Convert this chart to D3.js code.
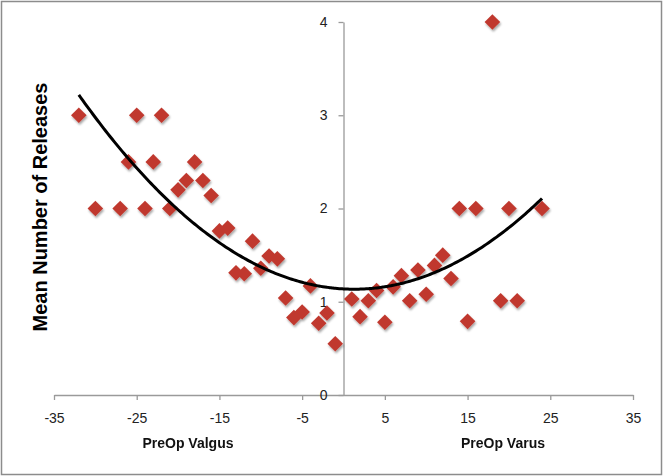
<!DOCTYPE html>
<html>
<head>
<meta charset="utf-8">
<script src="https://cdn.jsdelivr.net/npm/d3@7"></script>
<style>
  html, body { margin: 0; padding: 0; background: #fff; }
  svg { display: block; }
</style>
</head>
<body>
<svg id="chart" width="663" height="476"></svg>
<script>
// ---- data ----
const deformity = [-32, -30, -27, -26, -25, -24, -23, -22, -21, -20, -19, -18, -17, -16, -15, -14, -13, -12, -11, -10, -9, -8, -7, -6, -5, -4, -3, -2, -1,
                   1, 2, 3, 4, 5, 6, 7, 8, 9, 10, 11, 12, 13, 14, 15, 16, 18, 19, 20, 21, 24];
const meanReleases = [3.0, 2.0, 2.0, 2.5, 3.0, 2.0, 2.5, 3.0, 2.0, 2.2, 2.3, 2.5, 2.3, 2.14, 1.76, 1.79, 1.31, 1.3, 1.65, 1.36, 1.49, 1.46, 1.04, 0.83, 0.89, 1.17, 0.77, 0.88, 0.55,
                      1.03, 0.84, 1.01, 1.12, 0.78, 1.16, 1.28, 1.01, 1.34, 1.08, 1.39, 1.5, 1.25, 2.0, 0.79, 2.0, 4.0, 1.01, 2.0, 1.01, 2.0];
const xTicks = [-35, -25, -15, -5, 5, 15, 25, 35];
const yTicks = [0, 1, 2, 3, 4];
const xTitles = ["PreOp Valgus", "PreOp Varus"];
const yTitle = "Mean Number of Releases";

const svg = d3.select("#chart");
const W = 663, H = 476;

// outer border
svg.append("rect").attr("x", 1.5).attr("y", 1.5).attr("width", W - 3).attr("height", H - 3)
  .attr("fill", "#fff").attr("stroke", "#8c8c8c").attr("stroke-width", 1.5);

const x = d3.scaleLinear().domain([-35, 35]).range([54, 633]);
const y = d3.scaleLinear().domain([0, 4]).range([395, 22]);

const defs = svg.append("defs");
const f = defs.append("filter").attr("id", "sh").attr("x", "-50%").attr("y", "-50%").attr("width", "200%").attr("height", "200%");
f.append("feDropShadow").attr("dx", 1).attr("dy", 2).attr("stdDeviation", 1.3)
  .attr("flood-color", "#000").attr("flood-opacity", 0.35);

const axisColor = "#9a9a9a";
const font = "'Liberation Sans', Arial, sans-serif";
const plain = d => String(d);

// x axis (at y=0)
const gx = svg.append("g").attr("transform", `translate(0,${y(0)})`)
  .call(d3.axisBottom(x).tickValues(xTicks).tickSize(5).tickSizeOuter(0).tickPadding(13).tickFormat(plain));
gx.select(".domain").attr("stroke", axisColor).attr("stroke-width", 1.3);
gx.selectAll(".tick line").attr("stroke", axisColor).attr("stroke-width", 1.3);
gx.selectAll(".tick text").attr("font-family", font).attr("font-size", 14).attr("fill", "#222");

// y axis (at x=0)
const gy = svg.append("g").attr("transform", `translate(${x(0)},0)`)
  .call(d3.axisLeft(y).tickValues(yTicks).tickSize(5).tickSizeOuter(0).tickPadding(11).tickFormat(plain));
gy.select(".domain").attr("stroke", axisColor).attr("stroke-width", 1.3);
gy.selectAll(".tick line").attr("stroke", axisColor).attr("stroke-width", 1.3);
gy.selectAll(".tick text").attr("font-family", font).attr("font-size", 14).attr("fill", "#222");

// points
const pts = deformity.map((d, i) => ({ x: d, y: meanReleases[i] }));
const diamond = d3.symbol().type(d3.symbolDiamond2).size(155);
svg.append("g").attr("filter", "url(#sh)")
  .selectAll("path").data(pts).join("path")
  .attr("d", diamond)
  .attr("transform", d => `translate(${x(d.x)},${y(d.y)})`)
  .attr("fill", "#c0392f");

// quadratic trend line (least squares on the data)
function polyfit2(xs, ys) {
  let n = xs.length, s = [0,0,0,0,0], t = [0,0,0];
  for (let i = 0; i < n; i++) {
    const xi = xs[i], yi = ys[i];
    let p = 1;
    for (let k = 0; k < 5; k++) { s[k] += p; if (k < 3) t[k] += p * yi; p *= xi; }
  }
  const A = [[s[0], s[1], s[2], t[0]], [s[1], s[2], s[3], t[1]], [s[2], s[3], s[4], t[2]]];
  for (let c = 0; c < 3; c++) {
    for (let r = c + 1; r < 3; r++) {
      const m = A[r][c] / A[c][c];
      for (let k = c; k < 4; k++) A[r][k] -= m * A[c][k];
    }
  }
  const b = [0, 0, 0];
  for (let r = 2; r >= 0; r--) {
    let v = A[r][3];
    for (let k = r + 1; k < 3; k++) v -= A[r][k] * b[k];
    b[r] = v / A[r][r];
  }
  return b;
}
const coef = polyfit2(deformity, meanReleases);
const [xmin, xmax] = d3.extent(deformity);
const trend = d3.range(xmin, xmax + 0.001, 0.25).map(v => ({ x: v, y: coef[0] + coef[1] * v + coef[2] * v * v }));
svg.append("path").datum(trend)
  .attr("d", d3.line().x(d => x(d.x)).y(d => y(d.y)).curve(d3.curveBasis))
  .attr("fill", "none").attr("stroke", "#000").attr("stroke-width", 3);

// axis titles
svg.append("text").attr("x", 188).attr("y", 448).attr("text-anchor", "middle")
  .attr("font-family", font).attr("font-weight", "bold").attr("font-size", 14).attr("fill", "#111")
  .text(xTitles[0]);
svg.append("text").attr("x", 503).attr("y", 448).attr("text-anchor", "middle")
  .attr("font-family", font).attr("font-weight", "bold").attr("font-size", 14).attr("fill", "#111")
  .text(xTitles[1]);
svg.append("text").attr("transform", "translate(47,207) rotate(-90)").attr("text-anchor", "middle")
  .attr("font-family", font).attr("font-weight", "bold").attr("font-size", 20).attr("fill", "#000")
  .text(yTitle);
</script>
</body>
</html>
